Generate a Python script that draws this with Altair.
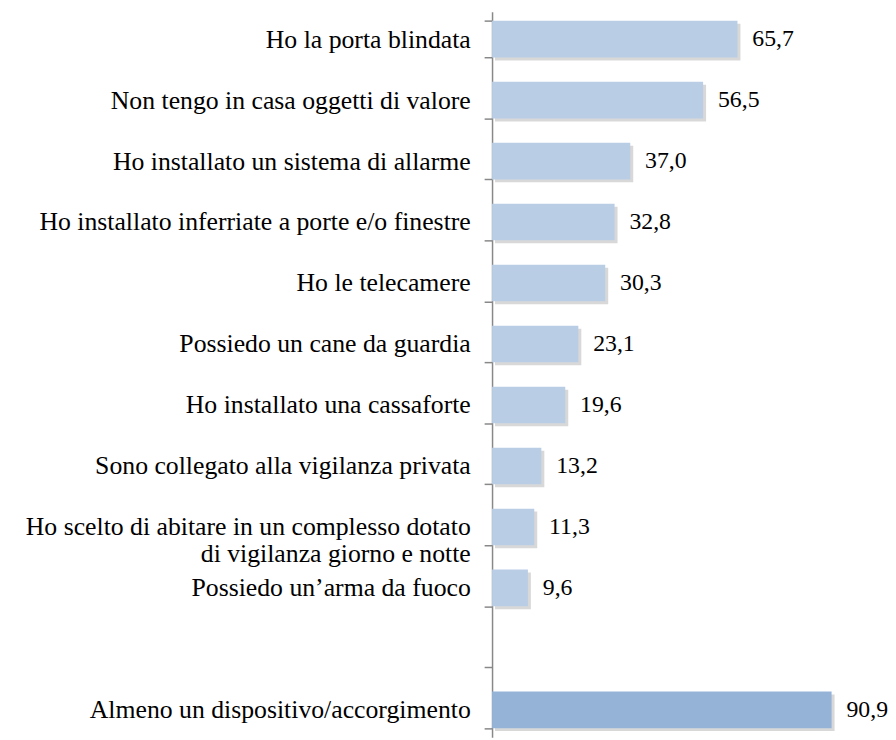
import altair as alt
import pandas as pd

categories = [
    "Ho la porta blindata",
    "Non tengo in casa oggetti di valore",
    "Ho installato un sistema di allarme",
    "Ho  installato inferriate a porte e/o finestre",
    "Ho le telecamere",
    "Possiedo un cane da guardia",
    "Ho installato una cassaforte",
    "Sono collegato alla vigilanza privata",
    "Ho scelto di abitare in un complesso dotato|di vigilanza giorno e notte",
    "Possiedo un\u2019arma da fuoco",
    "Almeno un dispositivo/accorgimento",
]
values = [65.7, 56.5, 37.0, 32.8, 30.3, 23.1, 19.6, 13.2, 11.3, 9.6, 90.9]
groups = ["item"] * 10 + ["total"]

domain = categories[:10] + [" "] + categories[10:]

df = pd.DataFrame({"cat": categories, "val": values, "grp": groups})

FONT = "Liberation Serif"
FS_LABEL = 26
FS_VALUE = 24

y = alt.Y(
    "cat:N",
    scale=alt.Scale(domain=domain, paddingInner=0.4, paddingOuter=0.15),
    axis=alt.Axis(
        title=None,
        labelFont=FONT,
        labelFontSize=FS_LABEL,
        labelColor="black",
        labelPadding=14,
        labelLimit=0,
        labelLineHeight=27,
        labelExpr="split(datum.label, '|')",
        tickBand="extent",
        tickSize=8,
        tickColor="#888888",
        tickWidth=1.5,
        domainColor="#888888",
        domainWidth=1.5,
    ),
)
x = alt.X("val:Q", scale=alt.Scale(domain=[0, 106]), axis=None)

base = alt.Chart(df)

shadow = base.mark_bar(color="#7f7f7f", opacity=0.3, xOffset=3, yOffset=3, x2Offset=3, y2Offset=3).encode(
    y=y, x=x
)
bars = base.mark_bar().encode(
    y=y,
    x=x,
    color=alt.Color(
        "grp:N",
        scale=alt.Scale(domain=["item", "total"], range=["#B9CDE5", "#95B3D7"]),
        legend=None,
    ),
)
text = base.transform_calculate(
    lbl="replace(format(datum.val, '.1f'), '.', ',')"
).mark_text(align="left", baseline="middle", dx=15, font=FONT, fontSize=FS_VALUE, color="black").encode(
    y=y, x=x, text="lbl:N"
)

chart = (
    alt.layer(shadow, bars, text)
    .properties(
        width=400,
        height=733,
        autosize=alt.AutoSizeParams(type="none"),
        padding={"left": 489, "top": 0, "right": 0, "bottom": 0},
    )
    .configure_view(stroke=None)
)

chart.save("out.html", embed_options={"renderer": "svg", "actions": False})
